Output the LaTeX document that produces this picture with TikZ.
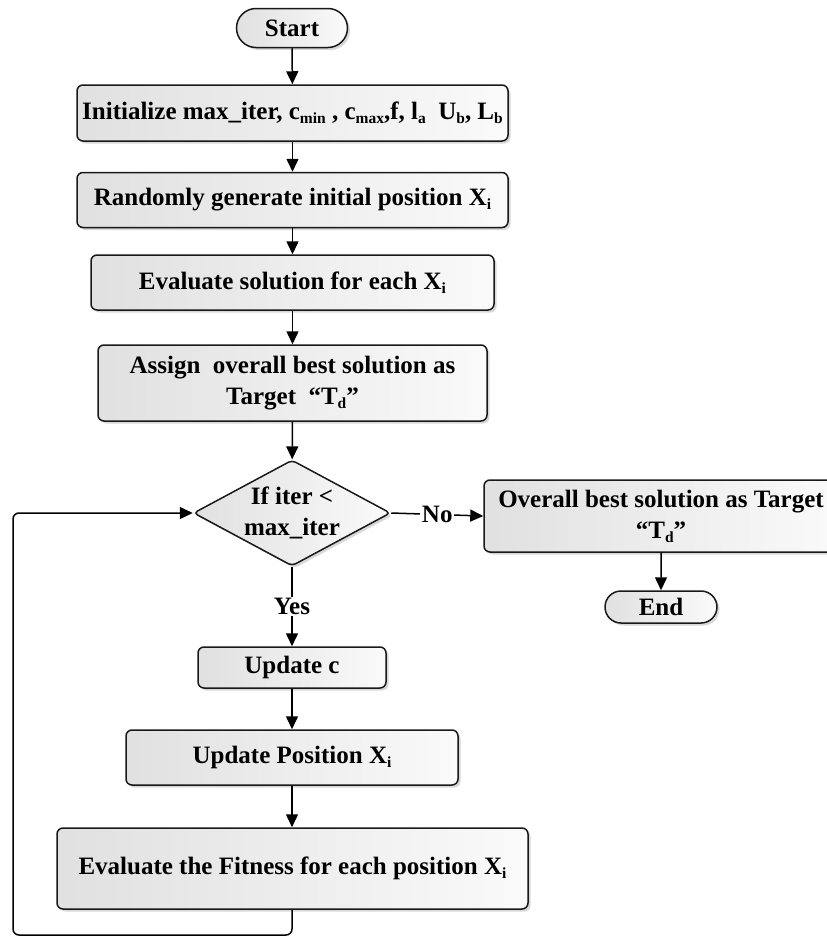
\documentclass[tikz,border=0pt]{standalone}
\usepackage{fontspec}
\setmainfont{Liberation Serif}
\usetikzlibrary{arrows.meta,shapes.geometric,shapes.misc,shadows}

% lowered small index used in the box labels
\newcommand\idx[1]{\raisebox{-4pt}{\fontsize{15.5}{15.5}\selectfont #1}}

\tikzset{
  txt/.style={font=\bfseries\fontsize{25}{31}\selectfont, align=center},
  boxbase/.style={txt, draw=black!90, line width=1.5pt,
    left color=gray!24, right color=gray!4,
    drop shadow={shadow xshift=2.5pt, shadow yshift=-2.5pt, fill=black!30, opacity=0.5},
    inner sep=0pt},
  box/.style={boxbase, rectangle, rounded corners=6pt},
  term/.style={boxbase, rounded rectangle},
  decision/.style={boxbase, diamond, rounded corners=4pt},
  link/.style={line width=1.5pt, -{Triangle[length=13pt,width=12pt]}},
  lbl/.style={txt, fill=white, inner sep=1.5pt}
}

\begin{document}
\begin{tikzpicture}[x=1pt,y=-1pt]
\useasboundingbox (0,0) rectangle (827,937);

\node[term, minimum width=111pt, minimum height=39pt] (start) at (292,28) {Start};
\node[box, minimum width=431pt, minimum height=56pt] (init) at (292.5,113)
  {Initialize max\_iter, c\idx{min} , c\idx{max},f, l\idx{a}\ \ U\idx{b}, L\idx{b}};
\node[box, minimum width=431pt, minimum height=55pt] (rand) at (292.5,200)
  {Randomly generate initial position X\idx{i}};
\node[box, minimum width=403pt, minimum height=55pt] (eval) at (292.5,282.5)
  {Evaluate solution for each X\idx{i}};
\node[box, minimum width=389pt, minimum height=76pt] (assign) at (292.5,383)
  {Assign\ \ overall best solution as\\Target\ \ “T\idx{d}”};
\node[decision, minimum width=197pt, minimum height=106pt, aspect=1.86] (dec) at (292,513)
  {If iter <\\max\_iter};
\node[box, minimum width=354pt, minimum height=72pt] (over) at (661,516)
  {Overall best solution as Target\\“T\idx{d}”};
\node[term, minimum width=112pt, minimum height=32pt] (end) at (661,607) {End};
\node[box, minimum width=188pt, minimum height=41pt] (updc) at (292,667.5) {Update c};
\node[box, minimum width=332pt, minimum height=55pt] (updp) at (292,757.5)
  {Update Position X\idx{i}};
\node[box, minimum width=471pt, minimum height=81pt] (fit) at (292.5,868.5)
  {Evaluate the Fitness for each position X\idx{i}};

\coordinate (lb) at (13,935);
\coordinate (lt) at (13,513);

\draw[link] (start) -- (init);
\draw[link] (init) -- (rand);
\draw[link] (rand) -- (eval);
\draw[link] (eval) -- (assign);
\draw[link] (assign) -- (dec);
\draw[link] (dec.east) -- node[lbl] {No} (over.west);
\draw[link] (over.south -| end) -- (end);
\draw[link] (dec.south) -- node[lbl] {Yes} (updc.north);
\draw[link] (updc) -- (updp);
\draw[link] (updp) -- (fit.north -| updp);
\draw[link, rounded corners=6pt] (fit.south -| dec) |- (lb) -- (lt) -- (dec.west);
\end{tikzpicture}
\end{document}
